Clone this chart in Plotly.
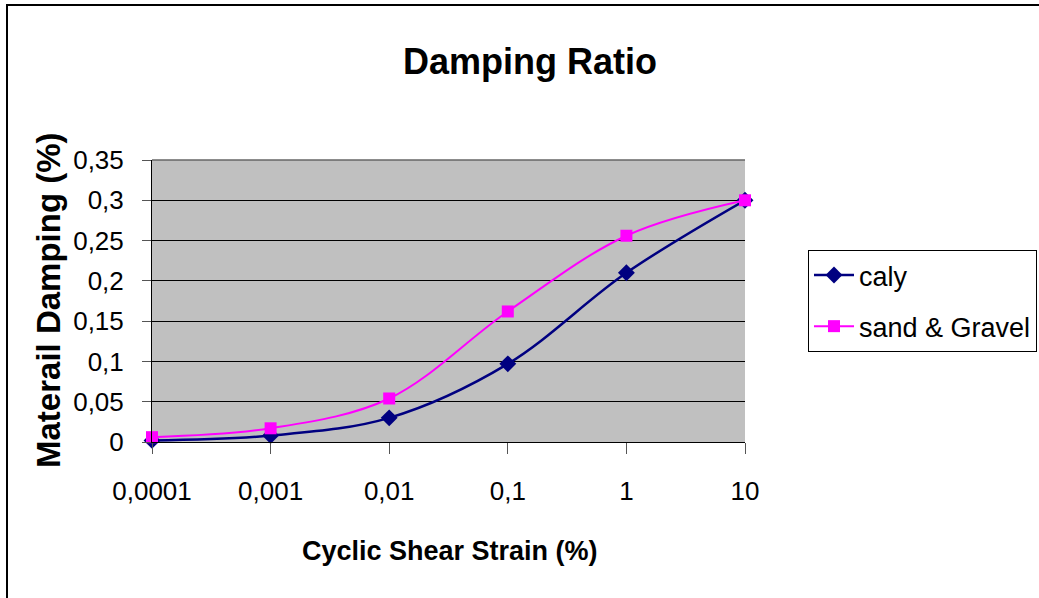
import plotly.graph_objects as go

# Cyclic shear strain (%) and damping ratio for each soil type
strain = [0.0001, 0.001, 0.01, 0.1, 1, 10]
strain_labels = ["0,0001", "0,001", "0,01", "0,1", "1", "10"]
clay_damping = [0.002, 0.008, 0.03, 0.097, 0.21, 0.3]
sand_gravel_damping = [0.006, 0.017, 0.054, 0.162, 0.256, 0.3]
y_ticks = [0, 0.05, 0.1, 0.15, 0.2, 0.25, 0.3, 0.35]

FONT = "Liberation Sans, Arial, sans-serif"

W, H = 1039, 598
L, R, T, B = 152, 294, 160, 156
PW, PH = W - L - R, H - T - B

fig = go.Figure()
fig.add_trace(go.Scatter(
    x=strain, y=clay_damping, name="caly", legendgroup="clay",
    mode="lines+markers",
    line=dict(color="#000080", width=2.5, shape="spline", smoothing=1),
    marker=dict(symbol="diamond", size=13, color="#000080"),
    cliponaxis=False,
))
fig.add_trace(go.Scatter(
    x=strain, y=sand_gravel_damping, name="sand & Gravel", legendgroup="sand",
    mode="lines+markers",
    line=dict(color="#FF00FF", width=2, shape="spline", smoothing=1),
    marker=dict(symbol="square", size=12, color="#FF00FF"),
    cliponaxis=False,
))

def px_x(p):
    return (p - L) / PW

def px_y(p):
    return (H - B - p) / PH

fig.update_layout(
    width=W, height=H,
    margin=dict(l=L, r=R, t=T, b=B, autoexpand=False),
    paper_bgcolor="white",
    plot_bgcolor="#C0C0C0",
    separators=",.",
    font=dict(family=FONT, size=26, color="black"),
    xaxis=dict(
        type="log", range=[-4, 1],
        tickvals=strain, ticktext=strain_labels,
        showgrid=False, zeroline=False,
        showline=True, linecolor="black", linewidth=1,
        ticks="outside", ticklen=11, tickcolor="#555", tickwidth=1,
        ticklabelstandoff=15,
        tickfont=dict(family=FONT, size=26),
    ),
    yaxis=dict(
        range=[0, 0.35], tickvals=y_ticks,
        showgrid=True, gridcolor="black", gridwidth=1,
        zeroline=False,
        showline=True, linecolor="black", linewidth=1,
        ticks="outside", ticklen=9, tickcolor="#555", tickwidth=1,
        ticklabelstandoff=13,
        tickfont=dict(family=FONT, size=26),
    ),
    legend=dict(
        x=px_x(808), y=px_y(250), xanchor="left", yanchor="top",
        bordercolor="black", borderwidth=1, bgcolor="white",
        font=dict(family=FONT, size=27),
        itemwidth=40, tracegroupgap=13,
    ),
    showlegend=True,
    annotations=[
        dict(text="<b>Damping Ratio</b>", xref="paper", yref="paper",
             x=px_x(530), y=px_y(61), xanchor="center", yanchor="middle",
             showarrow=False, font=dict(family=FONT, size=36)),
        dict(text="<b>Cyclic Shear Strain (%)</b>", xref="paper", yref="paper",
             x=px_x(450), y=px_y(551), xanchor="center", yanchor="middle",
             showarrow=False, font=dict(family=FONT, size=27)),
        dict(text="<b>Materail Damping (%)</b>", xref="paper", yref="paper",
             x=px_x(48), y=px_y(300), xanchor="center", yanchor="middle",
             textangle=-90, showarrow=False, font=dict(family=FONT, size=33)),
    ],
    shapes=[
        # gray border along the top of the plotting area
        dict(type="line", xref="paper", yref="paper", x0=0, x1=1, y0=1, y1=1,
             line=dict(color="#666", width=1.5), layer="above"),
        # chart frame
        dict(type="rect", xref="paper", yref="paper",
             x0=px_x(7), x1=px_x(W + 20), y0=px_y(H + 20), y1=px_y(5),
             line=dict(color="black", width=2), layer="below"),
    ],
)

fig.write_html("out.html")
